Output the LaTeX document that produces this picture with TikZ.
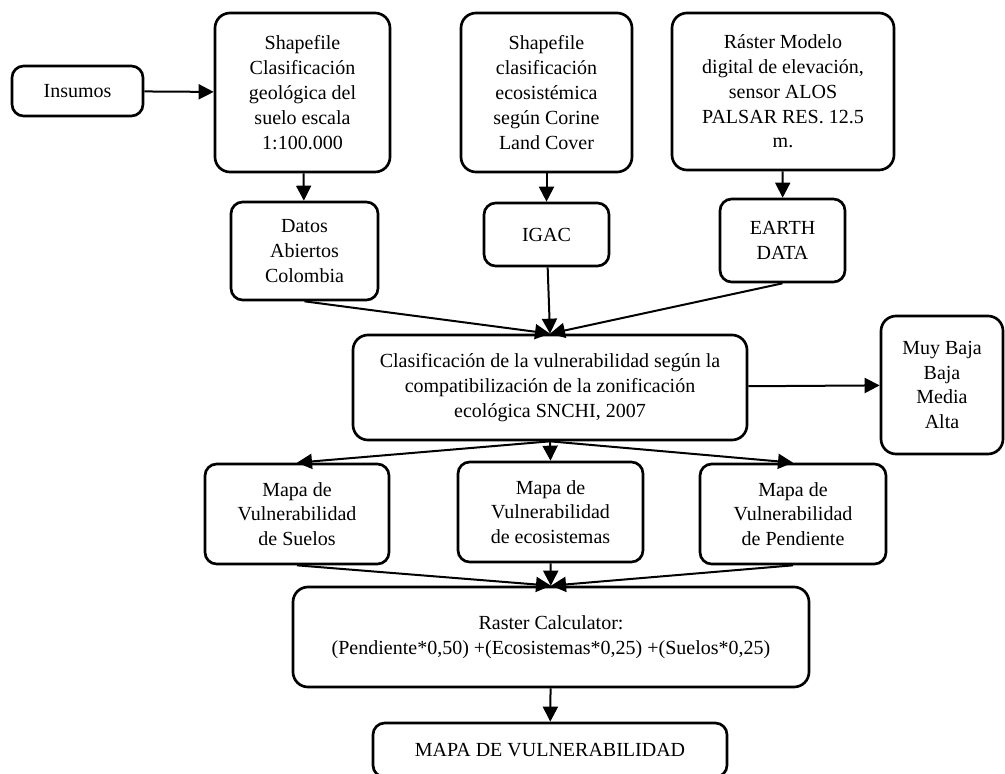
\documentclass[tikz,border=0pt]{standalone}
\usepackage{fontspec}
\setmainfont{Liberation Serif}
\usetikzlibrary{arrows.meta}

\begin{document}
\begin{tikzpicture}[x=0.6pt,y=-0.6pt,->,>={Triangle[length=9pt,width=9pt]},line width=1.2pt]
    \tikzstyle{caja}=[draw,rounded corners=9pt,line width=1.6pt,align=center,inner sep=2pt,font=\fontsize{12}{14.9}\selectfont]
    \tikzstyle{chica}=[caja,rounded corners=7pt]
    \useasboundingbox (0,0) rectangle (1005,773);

% fuentes
\node[chica,minimum width=78.6pt,minimum height=30pt] (ins) at (77.5,91) {Insumos};
\node[caja,minimum width=105pt,minimum height=95.4pt] (shp1) at (302.5,92.5) {Shapefile\\Clasificación\\geológica del\\suelo escala\\1:100.000};
\node[caja,minimum width=102.6pt,minimum height=95.4pt] (shp2) at (546.5,92.5) {Shapefile\\clasificación\\ecosistémica\\según Corine\\Land Cover};
\node[caja,minimum width=133.2pt,minimum height=94.2pt] (rast) at (783,91.5) {Ráster Modelo\\digital de elevación,\\sensor ALOS\\PALSAR RES. 12.5\\m.};

\node[chica,minimum width=88.2pt,minimum height=58.8pt] (datos) at (304.5,251) {Datos\\Abiertos\\Colombia};
\node[chica,minimum width=75pt,minimum height=37.8pt] (igac) at (546.5,234.5) {IGAC};
\node[chica,minimum width=75pt,minimum height=49.8pt] (earth) at (782.5,240.5) {EARTH\\DATA};

% clasificacion
\node[caja,minimum width=236.4pt,minimum height=63pt] (clas) at (550,387.5) {Clasificación de la vulnerabilidad según la\\compatibilización de la zonificación\\ecológica SNCHI, 2007};
\node[caja,minimum width=73.2pt,minimum height=82.8pt] (muy) at (942,385) {Muy Baja\\Baja\\Media\\Alta};

% mapas
\node[chica,minimum width=110.4pt,minimum height=60pt] (msue) at (297,514) {Mapa de\\Vulnerabilidad\\de Suelos};
\node[chica,minimum width=111pt,minimum height=60pt] (meco) at (550.5,512) {Mapa de\\Vulnerabilidad\\de ecosistemas};
\node[chica,minimum width=111.6pt,minimum height=60pt] (mpen) at (793,514) {Mapa de\\Vulnerabilidad\\de Pendiente};

\node[caja,minimum width=309.6pt,minimum height=60pt] (calc) at (551,637) {Raster Calculator:\\(Pendiente*0,50) +(Ecosistemas*0,25) +(Suelos*0,25)};
\node[chica,minimum width=212.4pt,minimum height=32.4pt] (mapa) at (550,750) {MAPA DE VULNERABILIDAD};

\draw (ins) -- (shp1);
\draw (shp1) -- (datos);
\draw (shp2) -- (igac);
\draw (rast) -- (earth);

\draw (datos.south) -- (clas.north);
\draw (igac) -- (clas.north);
\draw (earth.south) -- (clas.north);
\draw (clas) -- (muy);

\draw (clas.south) -- (msue.north);
\draw (clas.south) -- (meco.north);
\draw (clas.south) -- (mpen.north);

\draw (msue.south) -- (calc.north);
\draw (meco) -- (calc);
\draw (mpen.south) -- (calc.north);
\draw (calc) -- (mapa);
\end{tikzpicture}
\end{document}
